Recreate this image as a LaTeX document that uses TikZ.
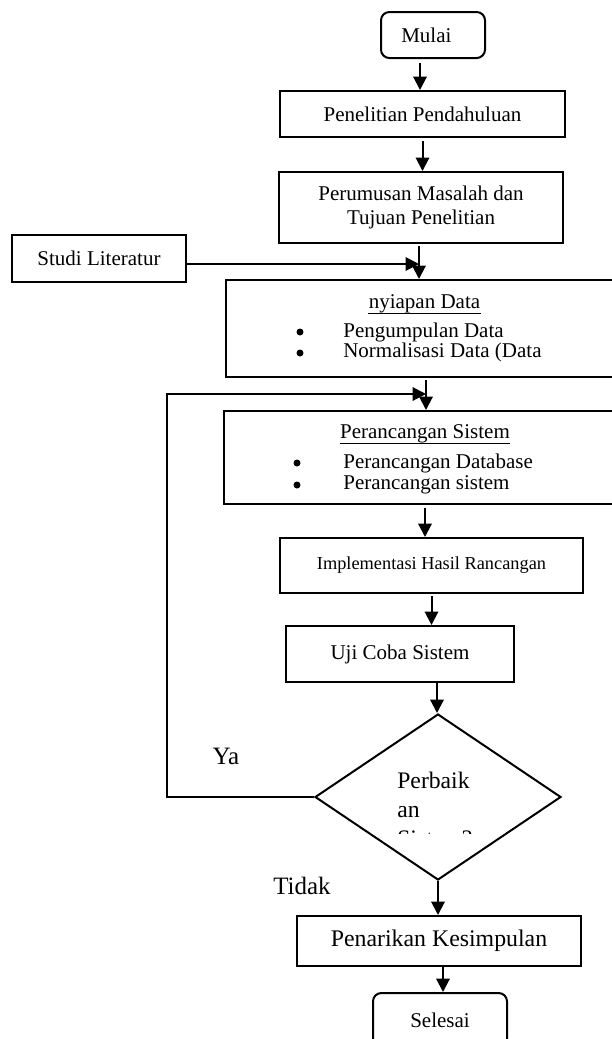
\documentclass[tikz,border=0pt]{standalone}
\usepackage{fontspec}
\setmainfont{Liberation Serif}
\usetikzlibrary{arrows.meta,shapes.geometric}

\tikzset{
  kotak/.style={draw, line width=1.2pt, inner sep=0pt, align=center},
  terminal/.style={kotak, rounded corners=5pt},
  panah/.style={-{Triangle[length=8pt,width=8pt]}, line width=1.2pt},
  teks/.style={inner sep=0pt},
  titik/.style={circle, fill, inner sep=0pt, minimum size=4.2pt},
  besar/.style={font=\fontsize{15}{18}\selectfont},
}

\begin{document}
\begin{tikzpicture}[x=0.6pt, y=-0.6pt, font=\fontsize{12.6}{14.2}\selectfont]
\clip (0,0) rectangle (612,1039);
% kotak utama
\node[terminal, minimum width=62.4pt, minimum height=27.6pt] (mulai) at (433,35) {Mulai\hspace*{8pt}};
\node[kotak, minimum width=171pt, minimum height=27.6pt] (pendahuluan) at (422.5,114) {Penelitian Pendahuluan};
\node[kotak, minimum width=170.4pt, minimum height=42.6pt] (rumusan) at (421,207.5) {Perumusan Masalah dan\\Tujuan Penelitian};
\node[kotak, minimum width=104.4pt, minimum height=28.2pt] (studi) at (99,258.5) {Studi Literatur};
\node[kotak, minimum width=260.4pt, minimum height=58.2pt] (penyiapan) at (443,328.5) {};
\node[kotak, minimum width=261.6pt, minimum height=55.8pt] (perancangan) at (442,457.5) {};
\node[kotak, minimum width=181.8pt, minimum height=33pt, font=\fontsize{11}{13}\selectfont] (implementasi) at (431.5,565.5) {Implementasi Hasil Rancangan};
\node[kotak, minimum width=136.8pt, minimum height=33.6pt] (uji) at (400,654) {Uji Coba Sistem};
\node[draw, diamond, line width=1.2pt, inner sep=0pt, minimum width=147.6pt, minimum height=99.6pt] (cek) at (438,797) {};
\node[kotak, minimum width=170.4pt, minimum height=30pt, font=\fontsize{14.3}{17}\selectfont] (kesimpulan) at (439,941) {Penarikan Kesimpulan};
\node[terminal, minimum width=80.4pt, minimum height=32.4pt] (selesai) at (440,1020) {Selesai};

% isi kotak penyiapan
\node[teks, anchor=base] (judul1) at (424.5,308) {nyiapan Data};
\draw[line width=0.6pt] ([yshift=-3pt]judul1.base west) -- ([yshift=-3pt]judul1.base east);
\node[titik] (b1) at (300,332) {};
\node[teks, anchor=base west] (kumpul) at (343,337) {Pengumpulan Data};
\node[titik] (b2) at (300,353) {};
\node[teks, anchor=base west] (normal) at (343,357) {Normalisasi Data (Data};

% isi kotak perancangan
\node[teks, anchor=base] (judul2) at (425,438) {Perancangan Sistem};
\draw[line width=0.6pt] ([yshift=-3pt]judul2.base west) -- ([yshift=-3pt]judul2.base east);
\node[titik] (b3) at (297,463) {};
\node[teks, anchor=base west] (database) at (343,468) {Perancangan Database};
\node[titik] (b4) at (297,485) {};
\begin{scope}
\clip (280,470) rectangle (560,494);
\node[teks, anchor=base west] (sistem) at (343,489) {Perancangan sistem};
\end{scope}

% teks keputusan
\begin{scope}
\clip (390,760) rectangle (490,833);
\node[teks, anchor=north west, align=left, font=\fontsize{14.2}{17.4}\selectfont] (tanya) at (397,772) {Perbaik\\an\\Sistem?};
\end{scope}
\node[teks, besar] (ya) at (226,756) {Ya};
\node[teks, besar] (tidak) at (302,886) {Tidak};

% panah
\draw[panah] ([shift={(-13,4)}]mulai.south) coordinate (p1) -- (p1 |- pendahuluan.north);
\draw[panah] ([shift={(0,3)}]pendahuluan.south) coordinate (p2) -- (p2 |- rumusan.north);
\draw[panah] ([shift={(-2,2)}]rumusan.south) coordinate (p3) -- (p3 |- penyiapan.north);
\draw[panah] ([shift={(0,5.5)}]studi.east) coordinate (s1) -- (s1 -| p3);
\draw[panah] ([shift={(-17,2)}]penyiapan.south) coordinate (p5) -- (p5 |- perancangan.north);
\draw[panah] ([shift={(-17,3)}]perancangan.south) coordinate (p7) -- (p7 |- implementasi.north);
\draw[panah] ([shift={(0,2)}]implementasi.south) coordinate (p8) -- (p8 |- uji.north);
\draw[panah] ([shift={(37,0)}]uji.south) coordinate (p9) -- (p9 |- cek.north);
\draw[panah] (cek.south) -- (cek.south |- kesimpulan.north);
\draw[panah] ([shift={(4,0)}]kesimpulan.south) coordinate (p11) -- (p11 |- selesai.north);
% balik ke perancangan
\coordinate (balik) at (167,394);
\draw[panah] (cek.west) -| (balik) -- (balik -| p5);
\end{tikzpicture}
\end{document}
